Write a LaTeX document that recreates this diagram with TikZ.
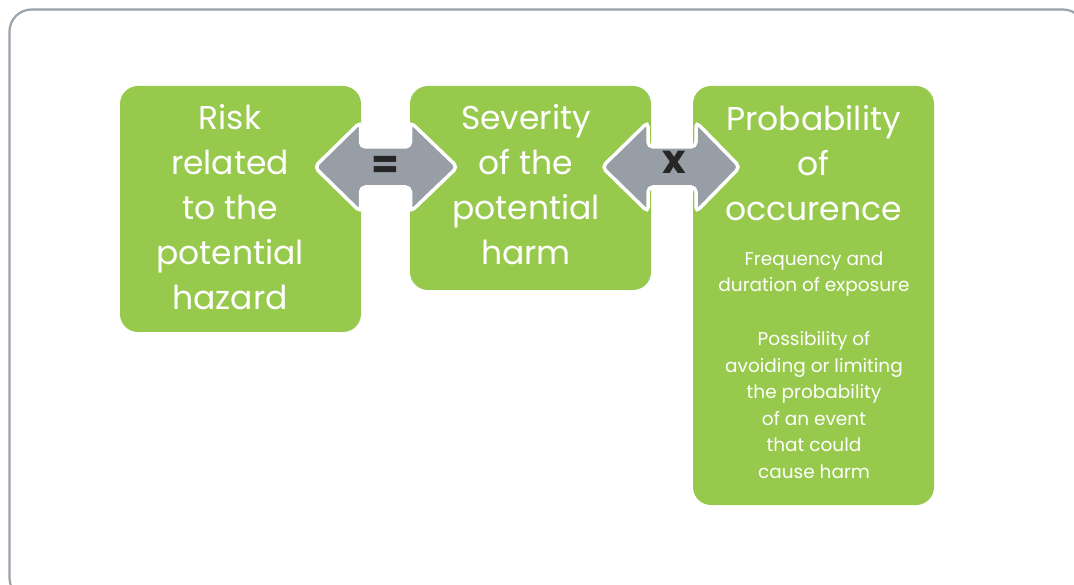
\documentclass[tikz,border=0pt]{standalone}
\usepackage{fontspec}
\setmainfont{Poppins}
\usetikzlibrary{calc,positioning}
\definecolor{boxgreen}{HTML}{97C94D}
\definecolor{arrowgray}{HTML}{979EA5}
\definecolor{framegray}{HTML}{9AA2AA}
\tikzset{
    box/.style={fill=boxgreen, rounded corners=18pt, minimum width=241pt, inner sep=0pt},
    title/.style={text=white, align=center, font=\fontsize{33}{45}\selectfont},
    detail/.style={text=white, align=center, font=\fontsize{18.5}{26.5}\selectfont},
    twoway/.style={fill=arrowgray, draw=white, line width=3.5pt, rounded corners=5pt},
    sym/.style={font=\fontsize{40}{40}\bfseries\selectfont, text=black!85}
}

\begin{document}
\begin{tikzpicture}[x=1pt, y=-1pt]
    \useasboundingbox (0,0) rectangle (1074,585);

    % Frame
    \draw[framegray, line width=2.2pt, rounded corners=22pt] (9.5,9.5) rectangle (1085,600);

    % Boxes
    \node[box, minimum height=246pt] (risk) at (240.5,209) {};
    \node[box, minimum height=204pt] (severity) at (530.5,188) {};
    \node[box, minimum height=419pt] (probability) at (813.5,295.5) {};

    % Box texts
    \node[title] (risktext) at (230,207)
        {Risk\\related\\to the\\potential\\hazard};
    \node[title] (severitytext) at (526,185)
        {Severity\\of the\\potential\\harm};
    \node[title, below=16pt of probability.north] (probtitle)
        {Probability\\of\\occurence};
    \node[detail, anchor=north] (exposure) at (814,248) {Frequency and\\duration of exposure};
    \node[detail, anchor=north] (avoidance) at (814,328)
        {Possibility of\\avoiding or limiting\\the probability\\of an event\\that could\\cause harm};

    % Arrow centres
    \coordinate (A1) at ($(risk.east |- 0,167)!0.5!(severity.west |- 0,167)$);
    \coordinate (A2) at ($(severity.east |- 0,167)!0.5!(probability.west |- 0,167)$);

    % Arrow #1 (equals)
    \begin{scope}[shift={(A1)}]
        \draw[twoway] (-71,0) -- (-25,-45) -- (-25,-20) -- (25,-20) -- (25,-45) -- (72,0)
            -- (25,45) -- (25,20) -- (-25,20) -- (-25,45) -- cycle;
    \end{scope}
    \node[sym] (equals) at (A1) {=};

    % Arrow #2 (times)
    \begin{scope}[shift={(A2)}]
        \draw[twoway] (-70,0) -- (-24,-45) -- (-24,-20) -- (24,-20) -- (24,-45) -- (68,0)
            -- (24,45) -- (24,20) -- (-24,20) -- (-24,45) -- cycle;
    \end{scope}
    \node[sym] (times) at ($(A2)+(2,-5)$) {x};
\end{tikzpicture}
\end{document}
